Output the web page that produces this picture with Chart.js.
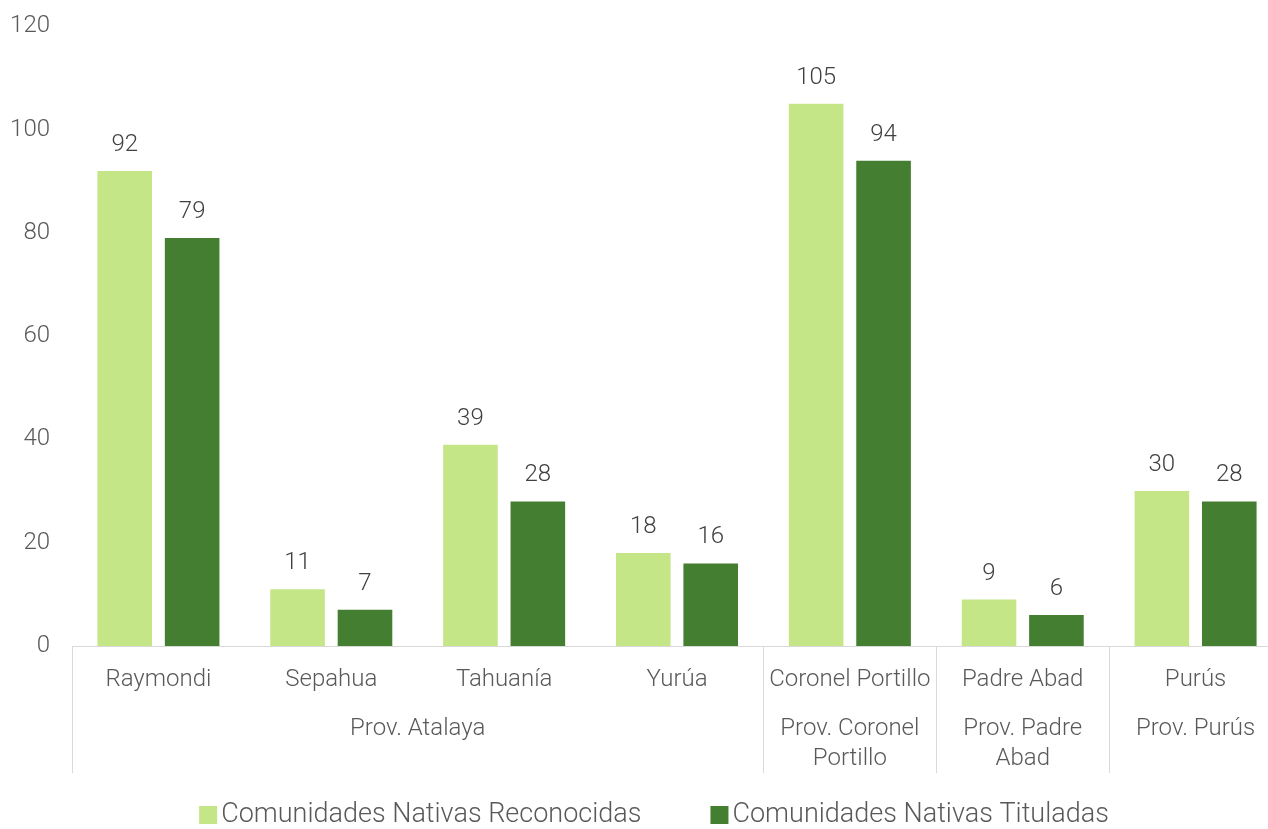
<!DOCTYPE html>
<html>
<head>
<meta charset="utf-8">
<script src="https://cdn.jsdelivr.net/npm/chart.js@4.4.0/dist/chart.umd.min.js"></script>
<style>
    html, body { margin: 0; padding: 0; background: #fff; overflow: hidden; width: 1268px; height: 829px; }
    /* the plot is a bit wider than the page and is clipped on the right */
    #wrap { position: absolute; left: 0; top: -10px; width: 1282px; height: 839px; }
</style>
</head>
<body>
<div id="wrap"><canvas id="myChart"></canvas></div>
<script>
const districts = ['Raymondi', 'Sepahua', 'Tahuanía', 'Yurúa', 'Coronel Portillo', 'Padre Abad', 'Purús'];
const reconocidas = [92, 11, 39, 18, 105, 9, 30];
const tituladas = [79, 7, 28, 16, 94, 6, 28];

// provinces: label lines, first and last district index
const provinceNames = [['Prov. Atalaya'], ['Prov. Coronel', 'Portillo'], ['Prov. Padre', 'Abad'], ['Prov. Purús']];
const provinceFirst = [0, 4, 5, 6];
const provinceLast = [3, 4, 5, 6];

const yTicks = [0, 20, 40, 60, 80, 100, 120];

const textColor = '#595959';
const fontFamily = 'Roboto, "Liberation Sans", sans-serif';
Chart.defaults.font.family = fontFamily;
Chart.defaults.color = textColor;

// numbers over each bar
const valueLabels = {
    id: 'valueLabels',
    afterDatasetsDraw(chart) {
        const ctx = chart.ctx;
        ctx.save();
        ctx.font = '300 24px ' + fontFamily;
        ctx.fillStyle = '#404040';
        ctx.textAlign = 'center';
        ctx.textBaseline = 'bottom';
        chart.data.datasets.forEach((ds, i) => {
            chart.getDatasetMeta(i).data.forEach((bar, j) => {
                ctx.fillText(ds.data[j], bar.x, bar.y - 14);
            });
        });
        ctx.restore();
    }
};

// second level of the category axis: province names and divider lines
const provinceAxis = {
    id: 'provinceAxis',
    afterDraw(chart) {
        const ctx = chart.ctx;
        const x = chart.scales.x;
        const top = chart.chartArea.bottom;
        const half = (x.getPixelForValue(1) - x.getPixelForValue(0)) / 2;
        ctx.save();
        ctx.strokeStyle = '#d9d9d9';
        ctx.lineWidth = 1;
        ctx.font = '300 24px ' + fontFamily;
        ctx.fillStyle = textColor;
        ctx.textAlign = 'center';
        ctx.textBaseline = 'middle';
        provinceNames.forEach((lines, p) => {
            const left = x.getPixelForValue(provinceFirst[p]) - half;
            const right = x.getPixelForValue(provinceLast[p]) + half;
            const lx = Math.round(left) + 0.5;
            ctx.beginPath();
            ctx.moveTo(lx, top);
            ctx.lineTo(lx, top + 127);
            ctx.stroke();
            lines.forEach((t, k) => {
                ctx.fillText(t, (left + right) / 2, top + 83 + k * 30);
            });
        });
        ctx.restore();
    }
};

// legend along the bottom edge
const bottomLegend = {
    id: 'bottomLegend',
    afterDraw(chart) {
        const ctx = chart.ctx;
        const y = chart.height - 14;
        const box = 18, textGap = 4, itemGap = 69;
        ctx.save();
        ctx.font = '300 27px ' + fontFamily;
        ctx.textBaseline = 'middle';
        ctx.textAlign = 'left';
        const items = chart.data.datasets.map(ds => ({ text: ds.label, color: ds.backgroundColor, w: ctx.measureText(ds.label).width }));
        const total = items.reduce((s, it) => s + box + textGap + it.w, 0) + itemGap * (items.length - 1);
        let x = chart.width / 2 + 13 - total / 2;
        items.forEach(it => {
            ctx.fillStyle = it.color;
            ctx.fillRect(x, y - box / 2, box, box);
            x += box + textGap;
            ctx.fillStyle = textColor;
            ctx.fillText(it.text, x, y);
            x += it.w + itemGap;
        });
        ctx.restore();
    }
};

const ctx = document.getElementById('myChart').getContext('2d');
new Chart(ctx, {
    type: 'bar',
    data: {
        labels: districts,
        datasets: [{
            label: 'Comunidades Nativas Reconocidas',
            data: reconocidas,
            backgroundColor: '#c5e687'
        }, {
            label: 'Comunidades Nativas Tituladas',
            data: tituladas,
            backgroundColor: '#447e30'
        }]
    },
    options: {
        responsive: true,
        maintainAspectRatio: false,
        animation: false,
        layout: { padding: { top: 2, right: 0, left: 0, bottom: 45 } },
        categoryPercentage: 0.78,
        barPercentage: 0.81,
        scales: {
            x: {
                grid: { display: false, drawTicks: false },
                border: { color: '#d9d9d9', width: 1 },
                ticks: { padding: 20, font: { size: 24, weight: 300 }, color: textColor, maxRotation: 0, autoSkip: false },
                afterFit(scale) { scale.height = 138; }
            },
            y: {
                min: 0,
                max: 120,
                grid: { display: false, drawTicks: false },
                border: { display: false },
                afterBuildTicks(scale) { scale.ticks = yTicks.map(v => ({ value: v })); },
                ticks: { padding: 22, font: { size: 24, weight: 300 }, color: textColor },
                afterFit(scale) { scale.width = 72; }
            }
        },
        plugins: {
            legend: { display: false },
            tooltip: { enabled: false }
        }
    },
    plugins: [valueLabels, provinceAxis, bottomLegend]
});
</script>
</body>
</html>
